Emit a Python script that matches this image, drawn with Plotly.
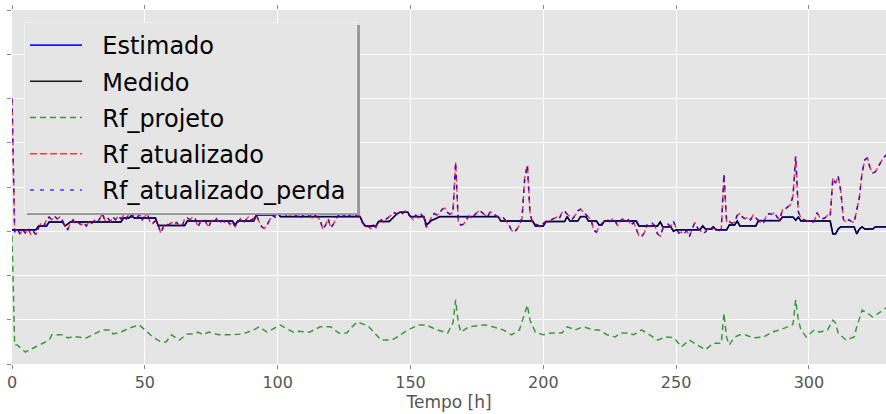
import plotly.graph_objects as go

hours = list(range(330))

medido_t = [0,9,10,13,14,19,20,21,22,41,42,44,45,46,54,55,65,66,83,84,85,91,92,99,100,101,131,132,133,137,
            138,142,143,144,145,146,149,150,155,156,157,158,159,160,161,183,184,196,197,200,201,208,209,210,213,
            214,216,217,220,221,222,223,235,236,243,244,245,248,249,250,259,260,261,263,264,265,269,270,272,273,
            274,280,281,289,290,294,295,296,297,308,309,310,311,312,317,318,319,320,321,324,325,329]
medido_v = [30.3,30.3,31.2,31.2,32.1,32.1,31.2,31.6,32.1,32.1,33.0,33.0,33.5,33.0,33.0,31.3,31.3,32.3,32.3,31.4,
            32.3,32.3,33.7,33.7,34.2,33.3,33.3,32.0,31.2,31.2,32.2,32.2,32.8,33.5,34.0,34.3,34.3,33.3,33.3,31.4,
            32.0,32.5,32.7,33.0,33.3,33.3,32.3,32.3,31.2,31.2,32.2,32.2,33.3,32.3,32.3,33.3,33.3,32.3,32.3,31.4,
            31.4,32.3,32.3,31.2,31.2,32.1,31.0,31.0,30.0,30.3,30.3,31.2,30.5,30.5,31.0,30.3,30.3,31.4,31.4,32.3,
            31.2,31.2,32.4,32.4,33.2,33.2,32.5,33.2,32.3,32.3,29.4,29.4,30.5,31.0,31.0,29.4,30.5,31.0,30.5,30.5,
            31.0,31.0]
estimado_v = [30.3,30.3,31.2,31.2,32.1,32.1,31.2,31.6,32.1,32.1,33.0,33.0,33.5,33.0,33.0,31.3,31.3,32.3,32.3,31.4,
              32.3,32.3,33.7,33.7,34.2,33.3,33.3,32.0,31.2,31.2,32.2,32.2,32.8,33.5,34.0,34.3,34.3,33.3,33.3,31.4,
              32.0,32.5,32.7,33.0,33.3,33.3,32.3,32.3,31.2,31.2,32.2,32.2,33.3,32.3,32.3,33.3,33.3,32.3,32.3,31.4,
              31.4,32.3,32.3,31.2,31.2,32.1,31.0,31.0,30.0,30.3,30.3,31.2,30.5,30.5,31.0,30.3,30.3,31.4,31.4,32.3,
              31.2,31.2,32.4,32.4,33.2,33.2,32.5,33.2,32.3,32.3,29.4,29.4,30.5,31.0,31.0,29.4,30.5,31.0,30.5,30.5,
              31.0,31.0]

rf_atualizado = [
    60.0,29.8,30.6,29.4,30.3,29.6,30.8,29.3,30.0,29.2,
    30.8,31.8,31.2,32.6,33.2,32.6,33.4,32.8,33.2,32.4,
    31.0,30.4,31.8,32.6,31.6,32.0,31.4,31.9,31.2,32.2,
    31.8,32.5,32.0,32.8,34.0,32.4,33.0,32.2,33.2,32.6,
    33.5,32.8,33.6,32.8,33.9,33.2,34.0,33.0,33.8,32.6,
    33.4,33.9,32.0,31.8,32.4,31.4,29.6,31.0,31.8,31.4,
    32.0,31.6,32.0,31.2,31.0,32.8,33.0,32.6,33.2,32.8,
    31.0,32.2,32.8,32.0,30.9,32.4,32.0,32.8,31.8,32.4,
    32.0,32.6,31.5,32.2,31.0,32.0,32.8,31.9,32.5,33.2,
    32.4,33.0,33.6,32.2,31.0,30.6,31.4,32.6,33.6,33.2,
    34.4,33.8,34.2,33.6,34.0,33.4,33.9,33.5,33.8,33.2,
    34.0,33.4,33.9,33.0,33.6,33.2,32.6,30.4,31.4,32.8,
    30.8,31.6,33.0,33.6,34.3,33.4,34.2,33.5,34.0,33.2,
    33.8,33.4,31.8,30.8,31.2,30.6,31.4,30.9,32.0,32.6,
    32.0,32.8,33.2,33.6,34.2,33.8,34.4,34.0,34.6,33.8,
    33.4,32.6,33.6,33.0,33.8,33.2,30.8,31.8,33.4,34.0,
    33.6,34.2,35.0,35.2,34.2,33.8,34.4,45.6,32.0,31.4,
    31.6,32.6,33.4,33.0,33.6,34.4,34.8,34.2,33.6,33.2,
    34.4,34.0,33.6,33.2,32.8,33.0,32.4,31.6,30.2,29.8,
    30.4,31.4,33.0,42.0,45.0,34.0,31.8,31.6,31.4,31.0,
    31.8,32.2,32.0,32.6,33.0,33.2,32.8,34.2,34.6,33.8,
    33.4,32.8,33.6,34.6,35.0,34.4,33.8,33.0,32.6,30.2,
    29.8,31.0,31.6,32.4,32.6,32.2,32.8,32.4,31.2,32.4,
    32.8,32.0,32.6,31.4,32.0,30.6,29.0,28.8,29.6,31.4,
    31.0,31.8,31.2,29.4,28.9,30.6,31.2,31.6,31.0,32.2,
    30.8,29.6,29.8,29.4,30.2,28.8,30.4,32.0,30.8,30.2,
    29.6,29.8,30.6,30.2,30.8,30.6,30.0,30.4,43.0,32.0,
    32.2,31.8,32.0,33.6,34.0,33.2,32.8,33.2,32.6,33.6,
    33.0,32.4,31.8,32.0,33.6,34.0,33.8,34.2,33.2,32.6,
    34.8,35.0,35.4,36.0,38.0,47.0,34.4,33.0,32.6,32.4,
    32.2,32.0,32.2,34.2,33.2,32.8,33.0,33.6,33.4,42.0,
    40.9,42.4,39.0,32.6,32.0,32.6,32.2,32.0,34.8,37.7,
    43.2,46.1,46.6,44.3,43.2,43.4,44.5,45.6,46.6,47.2]

rf_atualizado_perda = [
    60.0,29.8,30.6,29.4,30.3,29.6,30.8,29.3,30.0,29.2,
    30.8,31.8,31.2,32.6,33.2,32.6,33.4,32.8,33.2,32.4,
    31.0,30.4,31.8,32.6,31.6,32.0,31.4,31.9,31.2,32.2,
    31.8,32.5,32.0,32.8,34.0,32.4,33.0,32.2,33.2,32.6,
    33.5,32.8,33.6,32.8,33.9,33.2,34.0,33.0,33.8,32.6,
    33.4,33.9,32.0,31.8,32.4,31.4,29.6,31.0,31.8,31.4,
    32.0,31.6,32.0,31.2,31.0,32.8,33.0,32.6,33.2,32.8,
    31.0,32.2,32.8,32.0,30.9,32.4,32.0,32.8,31.8,32.4,
    32.0,32.6,31.5,32.2,31.0,32.0,32.8,31.9,32.5,33.2,
    32.4,33.0,33.6,32.2,31.0,30.6,31.4,32.6,33.6,33.2,
    34.4,33.8,34.2,33.6,34.0,33.4,33.9,33.5,33.8,33.2,
    34.0,33.4,33.9,33.0,33.6,33.2,32.6,30.4,31.4,32.8,
    30.8,31.6,33.0,33.6,34.3,33.4,34.2,33.5,34.0,33.2,
    33.8,33.4,31.8,30.8,31.2,30.6,31.4,30.9,32.0,32.6,
    32.0,32.8,33.2,33.6,34.2,33.8,34.4,34.0,34.6,33.8,
    33.4,32.6,33.6,33.0,33.8,33.2,30.8,31.8,33.4,34.0,
    33.6,34.2,35.0,35.2,34.2,33.8,34.4,45.6,32.0,31.4,
    31.6,32.6,33.4,33.0,33.6,34.4,34.8,34.2,33.6,33.2,
    34.4,34.0,33.6,33.2,32.8,33.0,32.4,31.6,30.2,29.8,
    30.4,31.4,33.0,42.0,45.0,34.0,31.8,31.6,31.4,31.0,
    31.8,32.2,32.0,32.6,33.0,33.2,32.8,34.2,34.6,33.8,
    33.4,32.8,33.6,34.6,35.0,34.4,33.8,33.0,32.6,30.2,
    29.8,31.0,31.6,32.4,32.6,32.2,32.8,32.4,31.2,32.4,
    32.8,32.0,32.6,31.4,32.0,30.6,29.0,28.8,29.6,31.4,
    31.0,31.8,31.2,29.4,28.9,30.6,31.2,31.6,31.0,32.2,
    30.8,29.6,29.8,29.4,30.2,28.8,30.4,32.0,30.8,30.2,
    29.6,29.8,30.6,30.2,30.8,30.6,30.0,30.4,43.0,32.0,
    32.2,31.8,32.0,33.6,34.0,33.2,32.8,33.2,32.6,33.6,
    33.0,32.4,31.8,32.0,33.6,34.0,33.8,34.2,33.2,32.6,
    34.8,35.0,35.4,36.0,38.0,47.0,34.4,33.0,32.6,32.4,
    32.2,32.0,32.2,34.2,33.2,32.8,33.0,33.6,33.4,42.0,
    40.9,42.4,39.0,32.6,32.0,32.6,32.2,32.0,34.8,37.7,
    43.2,46.1,46.6,44.3,43.2,43.4,44.5,45.6,46.6,47.2]

projeto_t = [0,1,2,5,9,14,15,19,21,23,28,32,34,37,38,41,44,48,50,53,56,58,60,63,66,69,70,72,74,78,83,87,91,93,96,
             101,103,106,108,112,116,120,123,126,128,130,134,137,139,143,145,149,153,156,160,164,166,167,168,169,
             172,177,178,181,185,188,191,194,195,197,200,203,207,209,212,215,219,221,224,227,229,232,234,237,239,
             243,246,249,252,255,259,261,264,267,268,269,270,272,274,276,279,283,286,289,292,294,295,296,297,299,
             302,304,307,309,310,311,314,317,318,320,322,324,326,329]
projeto_v = [29.0,4.3,4.3,2.7,3.9,5.4,6.6,6.6,5.9,6.2,5.9,7.0,7.7,7.7,6.8,7.2,8.1,8.8,7.7,6.1,5.0,5.0,6.6,5.4,6.8,
             6.8,7.2,6.6,7.2,6.6,6.6,6.8,7.7,8.4,7.2,8.8,8.1,7.2,7.4,7.2,8.4,8.4,7.0,7.0,8.4,9.5,8.6,6.6,5.4,5.4,
             6.1,7.7,8.8,8.8,7.7,7.0,9.3,14.5,9.3,7.2,8.4,8.8,8.8,8.4,7.7,6.6,7.7,13.3,9.9,7.2,6.6,7.0,7.0,8.4,7.7,
             8.4,7.7,7.7,6.6,6.1,7.0,7.0,6.6,7.7,7.0,5.4,6.1,6.0,3.9,5.4,3.9,3.2,4.7,4.7,11.5,6.0,4.3,6.1,6.6,6.6,
             5.9,6.1,7.2,7.7,8.4,9.0,14.5,9.9,7.7,6.1,7.7,7.2,7.7,9.9,9.3,7.0,5.4,6.1,8.4,12.2,11.5,10.6,11.4,12.7]

xticks = [0, 50, 100, 150, 200, 250, 300]
names = ["Estimado", "Medido", "Rf_projeto", "Rf_atualizado", "Rf_atualizado_perda"]
pad = "\u00a0\u00a0"
tail = "\u2009"

FONT = "DejaVu Sans"
fig = go.Figure()
fig.add_trace(go.Scatter(x=medido_t, y=estimado_v, name=pad + names[0] + tail, mode="lines",
                         line=dict(color="rgba(0,0,255,0.9)", width=1.6), legendgroup="a"))
fig.add_trace(go.Scatter(x=medido_t, y=medido_v, name=pad + names[1] + tail, mode="lines",
                         line=dict(color="rgba(0,0,0,0.9)", width=1.4), legendgroup="b"))
fig.add_trace(go.Scatter(x=projeto_t, y=projeto_v, name=pad + names[2] + tail, mode="lines",
                         line=dict(color="rgba(0,128,0,0.75)", width=1.5, dash="6px,4px"), legendgroup="c"))
fig.add_trace(go.Scatter(x=hours, y=rf_atualizado, name=pad + names[3] + tail, mode="lines",
                         line=dict(color="rgba(255,0,0,0.75)", width=1.5, dash="7px,3px"), legendgroup="d"))
fig.add_trace(go.Scatter(x=hours, y=rf_atualizado_perda, name=pad + names[4] + tail, mode="lines",
                         line=dict(color="rgba(0,0,255,0.75)", width=1.5, dash="4px,6px"), legendgroup="e"))

W, H = 886, 414
ml, mr, mt, mb = 12, 0, 10, 50
pw, ph = W - ml - mr, H - mt - mb
lx0, ly0, lx1, ly1 = 24, 22, 357, 212

fig.update_layout(
    width=W, height=H,
    margin=dict(l=ml, r=mr, t=mt, b=mb),
    paper_bgcolor="white", plot_bgcolor="#E5E5E5",
    font=dict(family=FONT, color="#555555"),
    showlegend=True,
    legend=dict(x=(lx0 - ml) / pw, y=(H - mb - ly0) / ph, xanchor="left", yanchor="top",
                bgcolor="#E5E5E5", bordercolor="#F0F0F0", borderwidth=1,
                font=dict(family=FONT, size=24, color="black"),
                traceorder="grouped", tracegroupgap=2, itemwidth=52),
    shapes=[dict(type="rect", xref="paper", yref="paper",
                 x0=(lx0 + 3 - ml) / pw, x1=(lx1 + 3 - ml) / pw,
                 y0=(H - mb - (ly1 + 3)) / ph, y1=(H - mb - (ly0 + 3)) / ph,
                 fillcolor="#9A9A9A", line=dict(width=0), layer="above")],
    xaxis=dict(range=[0, 329], tickvals=xticks, showgrid=True, gridcolor="white", gridwidth=1.2,
               zeroline=False, showline=False, ticks="outside", ticklen=4, tickcolor="#888888",
               mirror="ticks", tickfont=dict(size=16, color="#555555"),
               title=dict(text="Tempo [h]", font=dict(size=17, color="#555555"), standoff=0)),
    yaxis=dict(range=[0, 80], dtick=10, showgrid=True, gridcolor="white", gridwidth=1.2,
               zeroline=False, showline=False, showticklabels=False, ticks="outside", ticklen=4,
               tickcolor="#888888"),
)

fig.write_html("out.html")
